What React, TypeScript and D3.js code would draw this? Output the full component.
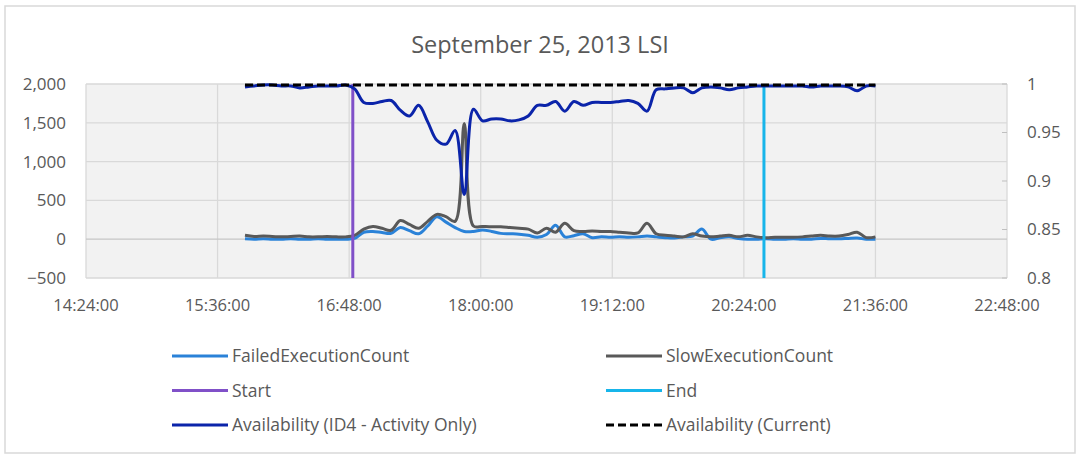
import React from "react";
import * as d3 from "d3";

const title = "September 25, 2013 LSI";

const times = [
  "15:51","15:56","16:01","16:06","16:11","16:16","16:21","16:26","16:31","16:36","16:41","16:46",
  "16:51","16:56","17:01","17:06","17:11","17:16","17:21","17:26","17:31","17:36","17:41","17:46",
  "17:51","17:56","18:01","18:06","18:11","18:16","18:21","18:26","18:31","18:36","18:41","18:46",
  "18:51","18:56","19:01","19:06","19:11","19:16","19:21","19:26","19:31","19:36","19:41","19:46",
  "19:51","19:56","20:01","20:06","20:11","20:16","20:21","20:26","20:31","20:36","20:41","20:46",
  "20:51","20:56","21:01","21:06","21:11","21:16","21:21","21:26","21:31","21:36"
];

const failedExecutionCount = [
  5, 0, 5, 0, 0, 5, 0, 0, 5, 0, 0, 0,
  10, 90, 100, 85, 75, 150, 110, 70, 170, 290, 220, 150,
  100, 100, 120, 100, 75, 70, 65, 50, 25, 60, 180, 30,
  45, 70, 20, 30, 25, 30, 25, 30, 40, 30, 20, 15,
  30, 40, 130, 0, 20, 30, 10, 0, 0, 5, 0, 0,
  5, 0, 0, 10, 5, 5, 10, 15, 0, 0
];

const slowExecutionCount = [
  50, 35, 40, 35, 30, 35, 40, 30, 30, 35, 30, 30,
  50, 130, 165, 140, 115, 240, 190, 140, 230, 320, 290, 230,
  1490, 170, 165, 160, 160, 150, 140, 130, 80, 140, 90, 205,
  110, 100, 105, 100, 100, 90, 80, 80, 205, 70, 50, 40,
  30, 70, 40, 30, 40, 50, 30, 50, 30, 20, 25, 25,
  25, 30, 40, 50, 40, 40, 60, 90, 20, 30
];

const availabilityID4 = [
  0.997, 0.998, 0.999, 0.999, 0.998, 0.998, 0.996, 0.997, 0.998, 0.998, 0.998, 0.999,
  0.995, 0.981, 0.980, 0.982, 0.983, 0.973, 0.967, 0.978, 0.961, 0.942, 0.938, 0.952,
  0.886, 0.974, 0.962, 0.964, 0.964, 0.962, 0.963, 0.967, 0.978, 0.978, 0.982, 0.972,
  0.982, 0.978, 0.981, 0.981, 0.981, 0.982, 0.983, 0.980, 0.972, 0.994, 0.995, 0.996,
  0.996, 0.991, 0.996, 0.997, 0.996, 0.994, 0.996, 0.997, 0.998, 0.998, 0.998, 0.998,
  0.998, 0.998, 0.997, 0.998, 0.998, 0.998, 0.997, 0.993, 0.998, 0.998
];

const availabilityCurrent = [
  0.999, 0.999, 0.999, 0.999, 0.999, 0.999, 0.999, 0.999, 0.999, 0.999, 0.999, 0.999,
  0.999, 0.999, 0.999, 0.999, 0.999, 0.999, 0.999, 0.999, 0.999, 0.999, 0.999, 0.999,
  0.999, 0.999, 0.999, 0.999, 0.999, 0.999, 0.999, 0.999, 0.999, 0.999, 0.999, 0.999,
  0.999, 0.999, 0.999, 0.999, 0.999, 0.999, 0.999, 0.999, 0.999, 0.999, 0.999, 0.999,
  0.999, 0.999, 0.999, 0.999, 0.999, 0.999, 0.999, 0.999, 0.999, 0.999, 0.999, 0.999,
  0.999, 0.999, 0.999, 0.999, 0.999, 0.999, 0.999, 0.999, 0.999, 0.999
];

const startTime = "16:50";
const endTime = "20:35";

const xTicks = ["14:24", "15:36", "16:48", "18:00", "19:12", "20:24", "21:36", "22:48"];
const leftTicks = [-500, 0, 500, 1000, 1500, 2000];
const rightTicks = [0.8, 0.85, 0.9, 0.95, 1];

const legendItems = [
  { name: "FailedExecutionCount", color: "#2a82d8", dash: "" },
  { name: "SlowExecutionCount", color: "#595959", dash: "" },
  { name: "Start", color: "#8050c8", dash: "" },
  { name: "End", color: "#17b5ea", dash: "" },
  { name: "Availability (ID4 - Activity Only)", color: "#0b24aa", dash: "" },
  { name: "Availability (Current)", color: "#000000", dash: "8,4" },
];

const W = 1080, H = 460;
const L = 86, R = 1007, T = 84, B = 278;
const FONT = "'Open Sans', 'Noto Sans', sans-serif";
const TXT = "#595959";

export default function App() {
  const parse = d3.timeParse("%H:%M");
  const x = d3.scaleTime().domain([parse("14:24")!, parse("22:48")!]).range([L, R]);
  const yL = d3.scaleLinear().domain([-500, 2000]).range([B, T]);
  const yR = d3.scaleLinear().domain([0.8, 1]).range([B, T]);
  const fmtL = d3.format(",");
  const fmtX = d3.timeFormat("%H:%M:%S");
  const dates = times.map((t) => parse(t)!);

  const lineL = d3
    .line<number>()
    .x((_, i) => x(dates[i]))
    .y((d) => yL(d))
    .curve(d3.curveCatmullRom);
  const lineR = d3
    .line<number>()
    .x((_, i) => x(dates[i]))
    .y((d) => yR(d))
    .curve(d3.curveCatmullRom);

  const xs = x(parse(startTime)!);
  const xe = x(parse(endTime)!);

  return (
    <svg width={W} height={H} style={{ position: "absolute", left: 0, top: 0, background: "#fff" }} fontFamily={FONT}>
      <rect x={5} y={6} width={1070} height={447} fill="#fff" stroke="#d9d9d9" strokeWidth={1.5} />
      <text x={540} y={53} textAnchor="middle" fontSize={23.5} fill={TXT}>{title}</text>

      <rect x={L} y={T} width={R - L} height={B - T} fill="#f2f2f2" />
      {xTicks.map((t) => (
        <line key={t} x1={x(parse(t)!)} x2={x(parse(t)!)} y1={T} y2={B} stroke="#d9d9d9" strokeWidth={1.3} />
      ))}
      {leftTicks.map((v) => (
        <line key={v} x1={L} x2={R} y1={yL(v)} y2={yL(v)} stroke={v === 0 ? "#c6c6c6" : "#d9d9d9"} strokeWidth={1.3} />
      ))}
      {rightTicks.map((v) => (
        <line key={v} x1={R - 5} x2={R} y1={yR(v)} y2={yR(v)} stroke="#bfbfbf" strokeWidth={1} />
      ))}

      {leftTicks.map((v) => (
        <text key={v} x={66} y={yL(v)} dy="0.35em" textAnchor="end" fontSize={17} fill={TXT}>{fmtL(v)}</text>
      ))}
      {rightTicks.map((v) => (
        <text key={v} x={1027} y={yR(v)} dy="0.35em" textAnchor="start" fontSize={17} fill={TXT}>{String(v)}</text>
      ))}
      {xTicks.map((t) => (
        <text key={t} x={x(parse(t)!)} y={311} textAnchor="middle" fontSize={16.5} fill={TXT}>{fmtX(parse(t)!)}</text>
      ))}

      <path d={lineL(failedExecutionCount)!} fill="none" stroke="#2a82d8" strokeWidth={3} />
      <path d={lineL(slowExecutionCount)!} fill="none" stroke="#595959" strokeWidth={3} />
      <line x1={xs} x2={xs} y1={T} y2={B} stroke="#8050c8" strokeWidth={3} />
      <line x1={xe} x2={xe} y1={T} y2={B} stroke="#17b5ea" strokeWidth={3} />
      <path d={lineR(availabilityID4)!} fill="none" stroke="#0b24aa" strokeWidth={3} />
      <path d={lineR(availabilityCurrent)!} fill="none" stroke="#000" strokeWidth={3} strokeDasharray="8,4" />

      {legendItems.map((it, i) => {
        const col = i % 2;
        const row = Math.floor(i / 2);
        const sx = col === 0 ? 172 : 606;
        const cy = 356 + row * 34.5;
        return (
          <g key={it.name}>
            <line x1={sx} x2={sx + 56} y1={cy} y2={cy} stroke={it.color} strokeWidth={3} strokeDasharray={it.dash || undefined} />
            <text x={sx + 60} y={cy} dy="0.35em" fontSize={17.5} fill={TXT}>{it.name}</text>
          </g>
        );
      })}
    </svg>
  );
}
